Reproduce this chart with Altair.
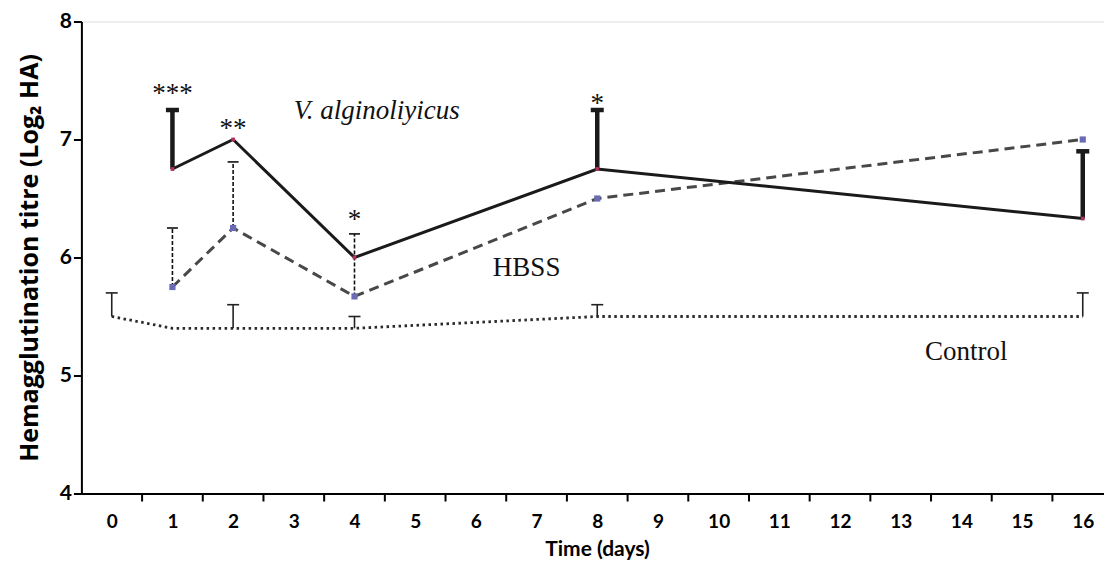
import altair as alt
import pandas as pd

# ---- data ----
va_days = [1, 2, 4, 8, 16]
va_mean = [6.75, 7.0, 6.0, 6.75, 6.33]
va_err_days = [1, 8, 16]
va_err_top = [7.25, 7.25, 6.9]

hbss_days = [1, 2, 4, 8, 16]
hbss_mean = [5.75, 6.25, 5.67, 6.5, 7.0]
hbss_err_days = [1, 2, 4]
hbss_err_top = [6.25, 6.81, 6.2]

ctrl_days = [0, 1, 2, 4, 8, 16]
ctrl_mean = [5.5, 5.4, 5.4, 5.4, 5.5, 5.5]
ctrl_err_days = [0, 2, 4, 8, 16]
ctrl_err_top = [5.7, 5.6, 5.5, 5.6, 5.7]

star_days = [1, 2, 4, 8]
star_labels = ["***", "**", "*", "*"]
star_level = [7.43, 7.13, 6.36, 7.34]

italic_label = ["V. alginoliyicus"]
italic_day = [3.0]
italic_level = [7.17]
plain_labels = ["HBSS", "Control"]
plain_day = [6.28, 13.4]
plain_level = [5.845, 5.13]

x_labels = list(range(0, 17))

# ---- tables ----
va_df = pd.DataFrame({"day": va_days, "v": va_mean})
va_err = pd.DataFrame({"day": va_err_days,
                       "lo": [va_mean[va_days.index(d)] for d in va_err_days],
                       "hi": va_err_top})
hb_df = pd.DataFrame({"day": hbss_days, "v": hbss_mean})
hb_err = pd.DataFrame({"day": hbss_err_days,
                       "lo": [hbss_mean[hbss_days.index(d)] for d in hbss_err_days],
                       "hi": hbss_err_top})
ct_df = pd.DataFrame({"day": ctrl_days, "v": ctrl_mean})
ct_err = pd.DataFrame({"day": ctrl_err_days,
                       "lo": [ctrl_mean[ctrl_days.index(d)] for d in ctrl_err_days],
                       "hi": ctrl_err_top})
star_df = pd.DataFrame({"day": star_days, "lab": star_labels, "v": star_level})
ital_df = pd.DataFrame({"day": italic_day, "lab": italic_label, "v": italic_level})
plain_df = pd.DataFrame({"day": plain_day, "lab": plain_labels, "v": plain_level})
tick_df = pd.DataFrame({"t": [d + 0.5 for d in x_labels[:-1]]})

W = 1022.6
H = 472

xs = alt.Scale(domain=[-0.5, 16.35], nice=False, zero=False)
ys = alt.Scale(domain=[4, 8], nice=False, zero=False)

X = alt.X("day:Q", scale=xs, axis=alt.Axis(
    values=x_labels, format="d", ticks=False, grid=False, domainColor="black",
    domainWidth=2, labelFont="Lato", labelFontWeight="bold", labelFontSize=19,
    labelColor="black", labelPadding=19, title="Time (days)", titleFont="Lato",
    titleFontWeight="bold", titleFontSize=21, titleColor="black", titleX=515.6,
    titleY=62, titleBaseline="alphabetic", labelFlush=False))
Y = alt.Y("v:Q", scale=ys, axis=alt.Axis(
    values=[4, 5, 6, 7, 8], format="d", grid=False, domainColor="black",
    domainWidth=2, tickColor="black", tickWidth=2, tickSize=8, labelFont="Lato",
    labelFontWeight="bold", labelFontSize=21, labelColor="black", labelPadding=2,
    title="Hemagglutination titre (Log₂ HA)", titleFont="Open Sans",
    titleFontWeight="bold", titleFontSize=25, titleColor="black",
    titleX=-44, titleY=H / 2, titleBaseline="alphabetic", titleAngle=270))

Xp = alt.X("day:Q", scale=xs)
Yp = alt.Y("v:Q", scale=ys)

base_axes = alt.Chart(ct_df).mark_line(
    color="#2a2a2a", strokeWidth=2.8, strokeDash=[2.5, 3.5]).encode(x=X, y=Y)

xticks = alt.Chart(tick_df).mark_rule(color="black", strokeWidth=2).encode(
    x=alt.X("t:Q", scale=xs), y=alt.value(H), y2=alt.value(H + 8))

ct_bars = alt.Chart(ct_err).mark_rule(color="#222222", strokeWidth=1.6).encode(
    x=Xp, y=alt.Y("lo:Q", scale=ys), y2="hi:Q")
ct_caps = alt.Chart(ct_err).mark_tick(
    orient="horizontal", color="#222222", size=12, thickness=1.6, opacity=1).encode(
    x=Xp, y=alt.Y("hi:Q", scale=ys))

hb_bars = alt.Chart(hb_err).mark_rule(
    color="#111111", strokeWidth=1.6, strokeDash=[4, 2]).encode(
    x=Xp, y=alt.Y("lo:Q", scale=ys), y2="hi:Q")
hb_caps = alt.Chart(hb_err).mark_tick(
    orient="horizontal", color="#111111", size=11, thickness=1.6, opacity=1).encode(
    x=Xp, y=alt.Y("hi:Q", scale=ys))
hb_line = alt.Chart(hb_df).mark_line(
    color="#484848", strokeWidth=3, strokeDash=[10, 6]).encode(x=Xp, y=Yp)
hb_pts = alt.Chart(hb_df).mark_square(
    color="#6b6bb5", size=38, opacity=1).encode(x=Xp, y=Yp)

va_bars = alt.Chart(va_err).mark_rule(color="#1a1a1a", strokeWidth=4.5).encode(
    x=Xp, y=alt.Y("lo:Q", scale=ys), y2="hi:Q")
va_caps = alt.Chart(va_err).mark_tick(
    orient="horizontal", color="#1a1a1a", size=13, thickness=4.5, opacity=1).encode(
    x=Xp, y=alt.Y("hi:Q", scale=ys))
va_line = alt.Chart(va_df).mark_line(color="#1a1a1a", strokeWidth=3).encode(
    x=Xp, y=Yp)
va_pts = alt.Chart(va_df).mark_square(
    color="#b03060", size=14, opacity=1).encode(x=Xp, y=Yp)

stars = alt.Chart(star_df).mark_text(
    font="Liberation Serif", fontSize=27, color="#111111", baseline="alphabetic",
    dy=13).encode(x=Xp, y=Yp, text="lab:N")

ital = alt.Chart(ital_df).mark_text(
    font="Liberation Serif", fontSize=27, color="#111111", baseline="alphabetic",
    align="left", fontStyle="italic").encode(x=Xp, y=Yp, text="lab:N")
plain = alt.Chart(plain_df).mark_text(
    font="Liberation Serif", fontSize=27, color="#111111", baseline="alphabetic",
    align="left").encode(x=Xp, y=Yp, text="lab:N")

chart = alt.layer(
    base_axes, xticks, ct_bars, ct_caps, hb_bars, hb_caps, hb_line,
    va_bars, va_caps, va_line, hb_pts, va_pts, stars, ital, plain
).properties(
    width=W, height=H,
    autosize=alt.AutoSizeParams(type="none"),
    padding={"left": 73.4, "top": 13.5, "right": 0, "bottom": 75},
).configure_view(stroke=None).configure(background="white")

chart.save("out.html", embed_options={"renderer": "svg", "actions": False})
